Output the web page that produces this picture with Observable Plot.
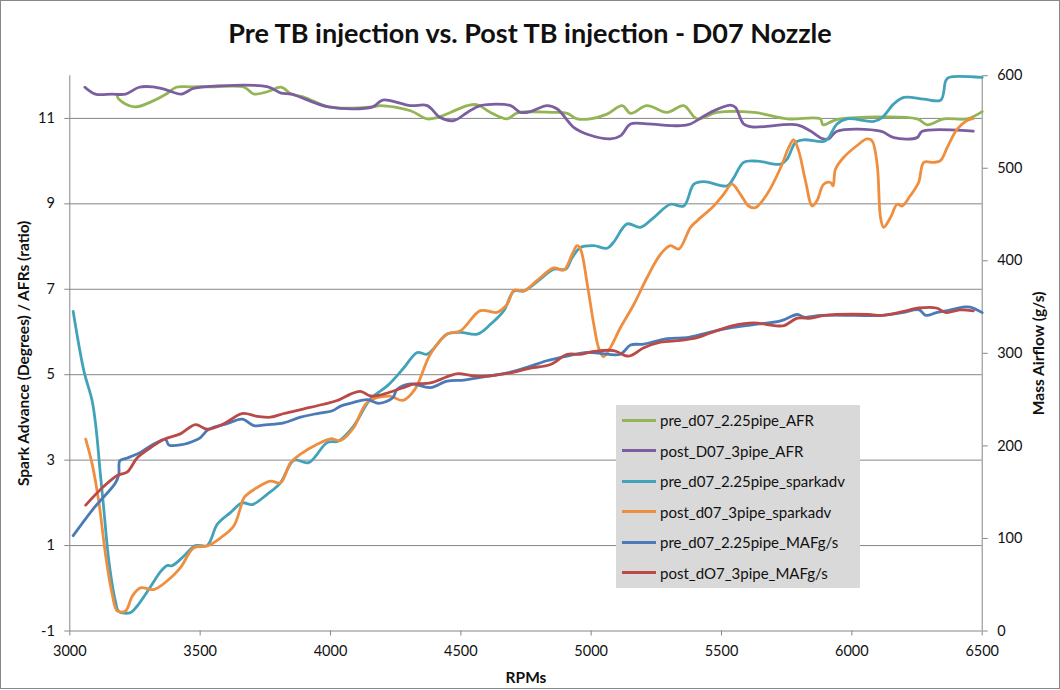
<!DOCTYPE html>
<html>
<head>
<meta charset="utf-8">
<script src="https://cdn.jsdelivr.net/npm/d3@7"></script>
<script src="https://cdn.jsdelivr.net/npm/@observablehq/plot@0.6"></script>
<style>
  body { margin: 0; background: #fff; }
  #chart { position: relative; width: 1060px; height: 690px; font-family: Lato, "Open Sans", sans-serif; color: #111; overflow: hidden; background: #fff; }
  #title { position: absolute; left: 0; top: 16px; width: 1060px; text-align: center; font-weight: bold; font-size: 27px; line-height: 34px; white-space: nowrap; }
  #plot { position: absolute; left: 0; top: 60px; }
  #legend { position: absolute; left: 616px; top: 405px; width: 244px; height: 183px; background: #d9d9d9; }
  .row { height: 30.5px; display: flex; align-items: center; font-size: 15px; color: #111; white-space: nowrap; }
  .sw { width: 34px; height: 3px; margin-left: 6px; margin-right: 4px; flex: none; }
  #frame { position: absolute; left: 0; top: 0; width: 1060px; height: 689px; box-sizing: border-box; border: 1px solid #888; pointer-events: none; }
</style>
</head>
<body>
<div id="chart">
  <div id="title">Pre TB injection vs. Post TB injection - D07 Nozzle</div>
  <div id="plot"></div>
  <div id="legend"></div>
  <div id="frame"></div>
</div>
<script>
// ---- axes / ticks ----
const xTicks = [3000, 3500, 4000, 4500, 5000, 5500, 6000, 6500];
const leftTicks = [-1, 1, 3, 5, 7, 9, 11];
const mafTicks = [0, 100, 200, 300, 400, 500, 600];

// ---- series names ----
const seriesNames = [
  "pre_d07_2.25pipe_AFR",
  "post_D07_3pipe_AFR",
  "pre_d07_2.25pipe_sparkadv",
  "post_d07_3pipe_sparkadv",
  "pre_d07_2.25pipe_MAFg/s",
  "post_dO7_3pipe_MAFg/s"
];
const seriesColors = ["#94B556", "#7B5E9F", "#42A2BA", "#EF8E3E", "#4A7AB7", "#BA4A47"];

// ---- pre AFR (left axis) ----
const preAfrRpm = [3181,3188,3247,3305,3370,3408,3462,3554,3669,3707,3760,3811,3850,3902,3993,4162,4192,4307,4371,4409,4460,4525,4563,4614,4678,4717,4857,4908,4946,4997,5061,5119,5151,5214,5291,5355,5406,5483,5624,5752,5879,5889,5930,5956,6250,6289,6353,6442,6500];
const preAfrVal = [11.57,11.45,11.27,11.37,11.57,11.73,11.74,11.74,11.73,11.57,11.63,11.73,11.57,11.49,11.27,11.27,11.3,11.18,10.99,11.02,11.14,11.3,11.32,11.14,10.99,11.13,11.14,11.12,10.99,10.99,11.1,11.3,11.12,11.3,11.14,11.3,10.99,11.14,11.14,10.99,10.99,10.85,10.95,10.99,10.99,10.85,10.99,10.99,11.16];

// ---- post AFR (left axis) ----
const postAfrRpm = [3058,3098,3162,3214,3266,3318,3370,3428,3473,3512,3760,3811,3850,3993,4162,4200,4307,4371,4421,4473,4525,4575,4691,4729,4767,4831,4870,4933,4985,5074,5112,5151,5214,5343,5381,5457,5534,5553,5585,5617,5790,5840,5885,5911,5943,6110,6161,6250,6270,6466];
const postAfrVal = [11.73,11.57,11.57,11.57,11.73,11.74,11.67,11.57,11.7,11.74,11.74,11.59,11.57,11.27,11.27,11.43,11.3,11.3,11.02,10.95,11.14,11.3,11.3,11.14,11.16,11.3,11.22,10.79,10.63,10.52,10.59,10.87,10.87,10.83,10.87,11.14,11.31,11.26,10.87,10.8,10.85,10.71,10.53,10.52,10.7,10.7,10.55,10.55,10.7,10.7];

// ---- pre spark advance (left axis) ----
const preSparkRpm = [3013,3054,3086,3102,3115,3130,3150,3175,3188,3233,3258,3309,3348,3373,3393,3437,3482,3527,3566,3616,3661,3700,3757,3808,3860,3916,3987,4032,4089,4153,4220,4280,4333,4371,4447,4499,4563,4614,4665,4704,4742,4805,4857,4902,4927,4959,5010,5061,5086,5138,5189,5240,5304,5355,5394,5433,5522,5548,5585,5637,5727,5752,5784,5816,5892,5911,5943,5982,6084,6116,6161,6200,6276,6341,6360,6372,6500];
const preSparkVal = [6.48,5.09,4.38,3.68,2.82,1.88,0.63,-0.3,-0.54,-0.57,-0.42,0.03,0.39,0.53,0.53,0.75,1.0,1.0,1.5,1.77,2.0,1.96,2.2,2.47,3.0,2.94,3.41,3.45,3.8,4.43,4.75,5.15,5.52,5.48,5.95,5.99,5.95,6.18,6.5,6.96,6.96,7.24,7.47,7.47,7.74,7.98,8.02,7.96,8.1,8.53,8.45,8.68,8.99,8.95,9.46,9.52,9.42,9.62,9.97,10.0,9.93,10.05,10.44,10.5,10.46,10.55,10.87,10.99,10.93,11.02,11.34,11.49,11.45,11.43,11.88,11.96,11.96];

// ---- post spark advance (left axis) ----
const postSparkRpm = [3061,3086,3111,3137,3163,3182,3214,3240,3271,3322,3373,3424,3476,3527,3578,3629,3655,3668,3719,3770,3808,3847,3885,3949,4000,4039,4089,4141,4226,4278,4323,4383,4447,4499,4575,4639,4678,4704,4742,4793,4857,4895,4927,4946,4959,4985,5010,5030,5047,5074,5112,5164,5214,5266,5304,5336,5381,5406,5470,5509,5540,5572,5604,5630,5675,5727,5758,5777,5796,5822,5848,5866,5892,5918,5928,5937,5969,6019,6058,6077,6097,6110,6122,6148,6174,6193,6224,6256,6276,6314,6340,6366,6404,6442,6467];
const postSparkVal = [3.49,2.9,2.04,0.79,-0.15,-0.53,-0.53,-0.18,0.01,-0.03,0.17,0.48,0.95,0.99,1.18,1.46,1.89,2.12,2.36,2.51,2.47,2.94,3.14,3.37,3.5,3.46,3.76,4.35,4.5,4.4,4.65,5.48,5.95,6.03,6.5,6.46,6.65,6.98,6.96,7.21,7.5,7.45,7.82,8.02,7.94,7.12,6.18,5.6,5.42,5.64,6.1,6.65,7.27,7.82,8.02,7.94,8.45,8.6,8.95,9.23,9.46,9.23,8.95,8.91,9.23,9.85,10.32,10.5,10.24,9.54,8.95,9.07,9.46,9.5,9.42,9.81,10.09,10.36,10.52,10.48,9.93,8.68,8.45,8.68,8.99,8.95,9.19,9.5,9.97,9.97,10.01,10.32,10.75,10.95,11.0];

// ---- pre MAF g/s (right axis) ----
const preMafRpm = [3013,3093,3175,3188,3192,3221,3271,3322,3367,3380,3424,3489,3501,3533,3603,3661,3706,3757,3821,3885,3949,4007,4039,4089,4141,4186,4239,4255,4307,4383,4447,4512,4575,4678,4754,4830,4908,4985,5035,5112,5151,5201,5291,5368,5457,5544,5623,5727,5791,5818,5882,6012,6116,6194,6258,6284,6324,6362,6427,6454,6500];
const preMafVal = [103,133,160,169,184,187,193,202,207,201,201,207,209,218,224,229,222,223,225,231,235,238,243,247,250,246,252,261,267,263,270,271,274,279,285,292,297,301,300,299,309,310,316,317,323,328,331,335,342,339,341,341,341,344,347,341,344,346,350,350,344];

// ---- post MAF g/s (right axis) ----
const postMafRpm = [3061,3118,3182,3221,3258,3309,3360,3424,3482,3527,3591,3661,3719,3770,3821,3898,3974,4026,4077,4115,4153,4192,4290,4320,4383,4459,4490,4540,4585,4670,4691,4767,4844,4908,4959,5010,5086,5144,5202,5266,5343,5406,5457,5544,5623,5701,5740,5791,5844,5895,6064,6116,6194,6258,6324,6362,6414,6466];
const postMafVal = [136,153,168,172,187,198,207,213,223,218,224,235,232,231,235,240,245,249,256,259,254,255,264,267,268,276,278,276,275,278,279,284,288,299,299,302,303,297,306,312,314,317,322,330,333,330,330,338,338,341,342,341,345,349,349,344,347,346];

// right axis (g/s) shares the frame with the left axis
const mafToLeft = d3.scaleLinear().domain([0, 600]).range([-1, 12]);

const seriesDefs = [
  {rpm: preAfrRpm, val: preAfrVal, maf: false},
  {rpm: postAfrRpm, val: postAfrVal, maf: false},
  {rpm: preSparkRpm, val: preSparkVal, maf: false},
  {rpm: postSparkRpm, val: postSparkVal, maf: false},
  {rpm: preMafRpm, val: preMafVal, maf: true},
  {rpm: postMafRpm, val: postMafVal, maf: true}
];

const lineMarks = seriesDefs.map((s, k) => {
  const rows = s.rpm.map((r, i) => ({rpm: r, v: s.maf ? mafToLeft(s.val[i]) : s.val[i]}));
  return Plot.line(rows, {x: "rpm", y: "v", stroke: seriesColors[k], strokeWidth: 2.8, curve: "catmull-rom"});
});

const axisGray = "#868686";

const plot = Plot.plot({
  width: 1060,
  height: 630,
  marginTop: 15.2,
  marginBottom: 59.5,
  marginLeft: 69.3,
  marginRight: 78.3,
  style: {fontFamily: "Lato, 'Open Sans', sans-serif", fontSize: "14.5px", color: "#111", background: "transparent"},
  x: {domain: [3000, 6500]},
  y: {domain: [-1, 12]},
  marks: [
    Plot.ruleY(leftTicks, {stroke: axisGray, strokeWidth: 1}),
    Plot.ruleX([3000], {stroke: axisGray, strokeWidth: 1}),
    Plot.ruleX([6500], {stroke: axisGray, strokeWidth: 1}),
    ...lineMarks,
    Plot.axisX({ticks: xTicks, tickSize: 5, tickPadding: 10, stroke: axisGray, tickFormat: d => String(d), label: null}),
    Plot.axisY({anchor: "left", ticks: leftTicks, tickSize: 5, tickPadding: 10, stroke: axisGray, tickFormat: d => String(d), label: null}),
    Plot.axisY({anchor: "right", ticks: mafTicks.map(t => mafToLeft(t)), tickSize: 5, tickPadding: 10, stroke: axisGray,
      tickFormat: d => String(Math.round(mafToLeft.invert(d))), label: null}),
    Plot.text(["Spark Advance (Degrees) / AFRs (ratio)"], {frameAnchor: "left", dx: -46, rotate: -90, textAnchor: "middle", lineAnchor: "middle", fontWeight: "bold", fontSize: 15.5, fill: "#111"}),
    Plot.text(["Mass Airflow (g/s)"], {frameAnchor: "right", dx: 57, rotate: -90, textAnchor: "middle", lineAnchor: "middle", fontWeight: "bold", fontSize: 15.5, fill: "#111"}),
    Plot.text(["RPMs"], {frameAnchor: "bottom", dy: 47, textAnchor: "middle", lineAnchor: "middle", fontWeight: "bold", fontSize: 15.5, fill: "#111"})
  ]
});
document.getElementById("plot").appendChild(plot);

// legend
const legend = document.getElementById("legend");
seriesNames.forEach((name, k) => {
  const row = document.createElement("div");
  row.className = "row";
  const sw = document.createElement("span");
  sw.className = "sw";
  sw.style.background = seriesColors[k];
  const tx = document.createElement("span");
  tx.textContent = name;
  row.appendChild(sw);
  row.appendChild(tx);
  legend.appendChild(row);
});
</script>
</body>
</html>
